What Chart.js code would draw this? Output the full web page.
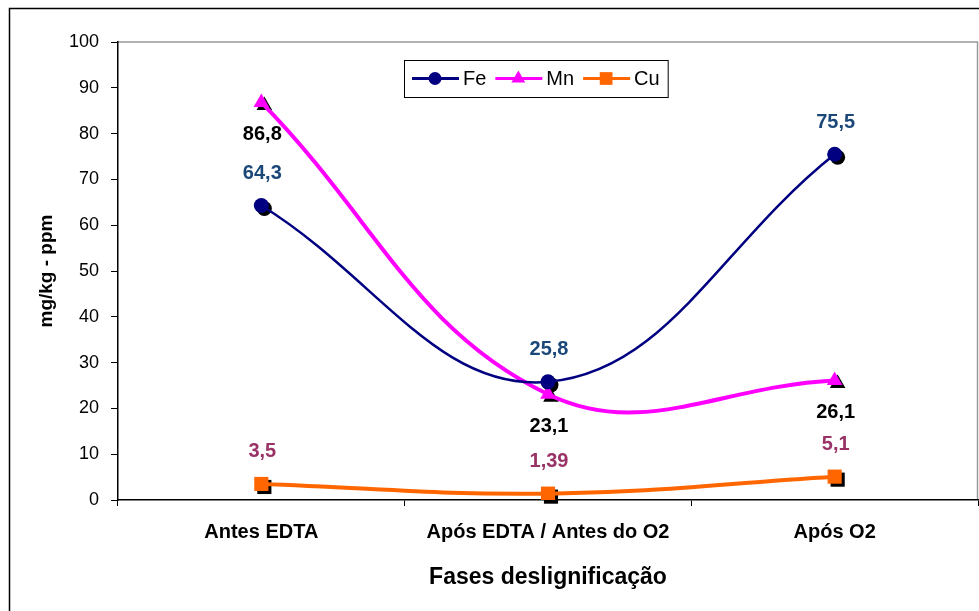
<!DOCTYPE html>
<html>
<head>
<meta charset="utf-8">
<script src="https://cdn.jsdelivr.net/npm/chart.js"></script>
<style>
  html, body { margin: 0; padding: 0; background: #fff; }
  canvas { display: block; }
</style>
</head>
<body>
<canvas id="chart" width="979" height="611"></canvas>
<script>
const categories = ['Antes EDTA', 'Após EDTA / Antes do O2', 'Após O2'];
const feValues = [64.3, 25.8, 75.5];
const mnValues = [86.8, 23.1, 26.1];
const cuValues = [3.5, 1.39, 5.1];
const yMin = 0, yMax = 100, yStep = 10;

const FONT = "'Liberation Sans', Arial, sans-serif";
Chart.defaults.font.family = FONT;
Chart.defaults.color = '#000';

function fmt(v) {
    return String(v).replace('.', ',');
}

// white page, outer frame (only top/left visible) and grey plot border
const framePlugin = {
    id: 'frame',
    beforeDraw(chart) {
        const ctx = chart.ctx;
        const a = chart.chartArea;
        ctx.save();
        ctx.fillStyle = '#fff';
        ctx.fillRect(0, 0, chart.width, chart.height);
        ctx.strokeStyle = '#000';
        ctx.lineWidth = 1.5;
        ctx.beginPath();
        ctx.moveTo(9.5, chart.height + 5);
        ctx.lineTo(9.5, 8.5);
        ctx.lineTo(chart.width + 5, 8.5);
        ctx.stroke();
        ctx.strokeStyle = '#9a9a9a';
        ctx.lineWidth = 1.5;
        ctx.beginPath();
        ctx.moveTo(a.left, a.top);
        ctx.lineTo(a.right - 0.5, a.top);
        ctx.lineTo(a.right - 0.5, a.bottom);
        ctx.stroke();
        ctx.restore();
    }
};

// black drop shadows under the markers
const shadowPlugin = {
    id: 'markerShadow',
    beforeDatasetsDraw(chart) {
        const ctx = chart.ctx;
        ctx.save();
        chart.data.datasets.forEach((ds, i) => {
            const meta = chart.getDatasetMeta(i);
            meta.data.forEach(pt => {
                ctx.fillStyle = '#000';
                Chart.helpers.drawPoint(ctx, {
                    pointStyle: ds.pointStyle,
                    radius: ds.pointRadius,
                    rotation: 0,
                    borderWidth: 0
                }, pt.x + 3, pt.y + 3);
            });
        });
        ctx.restore();
    }
};

// value labels
const labelPlugin = {
    id: 'valueLabels',
    afterDatasetsDraw(chart) {
        const ctx = chart.ctx;
        ctx.save();
        ctx.font = 'bold 20px ' + FONT;
        ctx.textAlign = 'center';
        ctx.textBaseline = 'middle';
        chart.data.datasets.forEach((ds, i) => {
            const meta = chart.getDatasetMeta(i);
            ctx.fillStyle = ds.labelColor;
            meta.data.forEach((pt, j) => {
                ctx.fillText(fmt(ds.data[j]), pt.x + 1, pt.y + ds.labelOffset);
            });
        });
        ctx.restore();
    }
};

// boxed legend inside the plot, line + marker per series
const legendPlugin = {
    id: 'boxLegend',
    afterDraw(chart) {
        const ctx = chart.ctx;
        const a = chart.chartArea;
        const left = a.left + 286, top = a.top + 18, h = 37;
        ctx.save();
        ctx.font = '20px ' + FONT;
        ctx.textBaseline = 'middle';
        let x = left + 8;
        const cy = top + h / 2;
        const items = [];
        chart.data.datasets.forEach(ds => {
            items.push({ ds, x });
            x += 51 + ctx.measureText(ds.label).width + 9;
        });
        const w = x - left - 1;
        ctx.fillStyle = '#fff';
        ctx.fillRect(left, top, w, h);
        ctx.strokeStyle = '#000';
        ctx.lineWidth = 1;
        ctx.strokeRect(left + 0.5, top + 0.5, w, h);
        items.forEach(({ ds, x }) => {
            ctx.strokeStyle = ds.borderColor;
            ctx.lineWidth = 3;
            ctx.beginPath();
            ctx.moveTo(x, cy);
            ctx.lineTo(x + 47, cy);
            ctx.stroke();
            ctx.fillStyle = ds.borderColor;
            Chart.helpers.drawPoint(ctx, {
                pointStyle: ds.pointStyle,
                radius: ds.pointRadius - 1,
                rotation: 0,
                borderWidth: 0
            }, x + 23, cy);
            ctx.fillStyle = '#000';
            ctx.fillText(ds.label, x + 51, cy + 1);
        });
        ctx.restore();
    }
};

new Chart(document.getElementById('chart').getContext('2d'), {
    type: 'line',
    data: {
        labels: categories,
        datasets: [
            {
                label: 'Fe',
                data: feValues,
                borderColor: '#000080',
                backgroundColor: '#000080',
                borderWidth: 2.5,
                pointStyle: 'circle',
                pointRadius: 7.5,
                pointBorderWidth: 0,
                labelColor: '#1b4878',
                labelOffset: -32
            },
            {
                label: 'Mn',
                data: mnValues,
                borderColor: '#ff00ff',
                backgroundColor: '#ff00ff',
                borderWidth: 4,
                pointStyle: 'triangle',
                pointRadius: 9,
                pointBorderWidth: 0,
                labelColor: '#000',
                labelOffset: 32
            },
            {
                label: 'Cu',
                data: cuValues,
                borderColor: '#ff6600',
                backgroundColor: '#ff6600',
                borderWidth: 4,
                pointStyle: 'rect',
                pointRadius: 10,
                pointBorderWidth: 0,
                labelColor: '#993366',
                labelOffset: -32
            }
        ]
    },
    options: {
        responsive: false,
        animation: false,
        layout: { autoPadding: false, padding: { left: 0, top: 42, right: 1, bottom: 0 } },
        elements: { line: { tension: 0.4, fill: false } },
        plugins: {
            legend: { display: false },
            tooltip: { enabled: false }
        },
        scales: {
            x: {
                offset: true,
                afterFit(scale) {
                    scale.height = 111;
                    scale.paddingLeft = 0;
                    scale.paddingRight = 0;
                },
                grid: {
                    offset: true,
                    drawOnChartArea: false,
                    drawTicks: true,
                    tickLength: 6,
                    color: '#000'
                },
                border: { display: true, color: '#000', width: 1.5 },
                ticks: {
                    padding: 14,
                    maxRotation: 0,
                    font: { size: 20, weight: 'bold' },
                    color: '#000'
                },
                title: {
                    display: true,
                    text: 'Fases deslignificação',
                    font: { size: 23, weight: 'bold' },
                    color: '#000',
                    padding: { top: 0, bottom: 20 }
                }
            },
            y: {
                min: yMin,
                max: yMax,
                afterFit(scale) { scale.width = 118; },
                grid: {
                    drawOnChartArea: false,
                    drawTicks: true,
                    tickLength: 7,
                    color: '#000'
                },
                border: { display: true, color: '#000', width: 1.5 },
                ticks: {
                    stepSize: yStep,
                    padding: 12,
                    font: { size: 18 },
                    color: '#000'
                },
                title: {
                    display: true,
                    text: 'mg/kg - ppm',
                    font: { size: 19, weight: 'bold' },
                    color: '#000',
                    padding: { top: 35, bottom: 0 }
                }
            }
        }
    },
    plugins: [framePlugin, shadowPlugin, labelPlugin, legendPlugin]
});
</script>
</body>
</html>
